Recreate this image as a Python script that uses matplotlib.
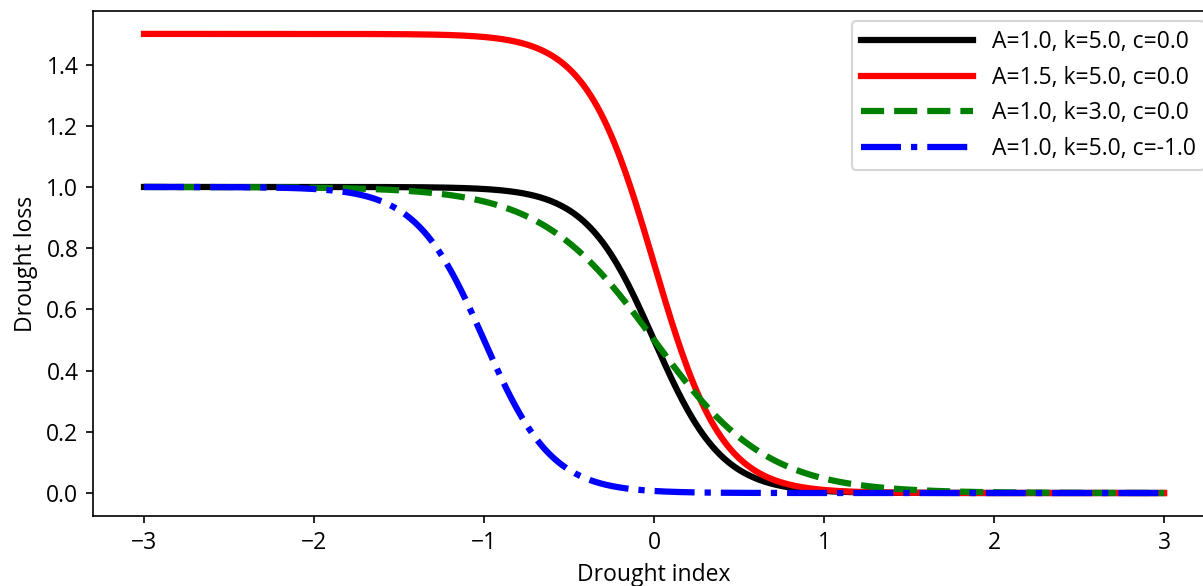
import numpy as np
import matplotlib
matplotlib.use("Agg")
import matplotlib.pyplot as plt

plt.rcParams['font.family'] = ['Open Sans', 'DejaVu Sans']
plt.rcParams['font.size'] = 11

# 曲线参数 (A, k, c) —— 图例中给出
A_vals = [1.0, 1.5, 1.0, 1.0]
k_vals = [5.0, 5.0, 3.0, 5.0]
c_vals = [0.0, 0.0, 0.0, -1.0]
colors = ['black', 'red', 'green', 'blue']
styles = ['-', '-', '--', '-.']

x_min, x_max = -3, 3
x = np.linspace(x_min, x_max, 600)

fig = plt.figure(figsize=(1203 / 150, 586 / 150), dpi=150)
ax = fig.add_axes([0.0773, 0.1195, 0.9327, 0.8618])

for A, k, c, col, ls in zip(A_vals, k_vals, c_vals, colors, styles):
    y = A / (1 + np.exp(k * (x - c)))
    ax.plot(x, y, color=col, linestyle=ls, linewidth=3,
            label=f'A={A}, k={k}, c={c}')

ax.set_xlim(-3.3, 3.3)
ax.set_ylim(-0.075, 1.575)
ax.set_xlabel('Drought index')
ax.set_ylabel('Drought loss')
ax.legend(loc='upper right', handlelength=4.9, borderaxespad=0.45)

plt.savefig('out.png', dpi=150)
